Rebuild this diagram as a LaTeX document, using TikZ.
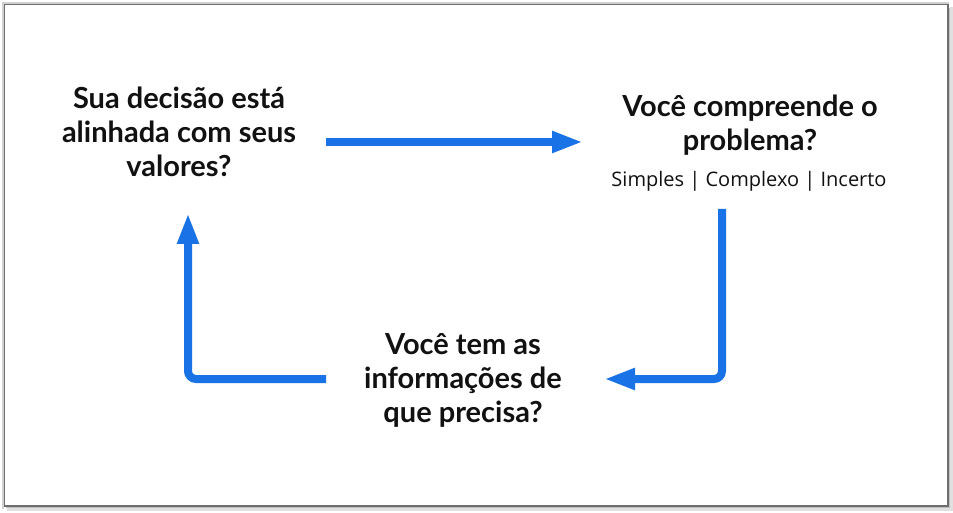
\documentclass[tikz,border=0pt]{standalone}
\usepackage{fontspec}
\setmainfont{Lato}
\newfontfamily\subfont{Open Sans}
\usetikzlibrary{arrows.meta}
\definecolor{flowblue}{RGB}{26,115,230}
\definecolor{ink}{RGB}{17,17,17}
\definecolor{framegray}{RGB}{110,110,110}
\tikzset{
  title/.style={font=\fontsize{29}{34}\selectfont\bfseries, text=ink, align=center, inner sep=0pt, anchor=base},
  sub/.style={font=\subfont\fontsize{20}{22}\selectfont, text=ink, inner sep=0pt, anchor=base},
  flow/.style={draw=flowblue, line width=8pt, rounded corners=8pt, -{Triangle[length=31pt,width=20pt]}},
}
\begin{document}
\begin{tikzpicture}[x=1pt,y=1pt]
\useasboundingbox (0,0) rectangle (953,512);
\fill[white] (0,0) rectangle (953,512);
% frame with soft shadow
\draw[black!12, line width=3pt] (7,3) -- (951,3) -- (951,505);
\draw[black!25, line width=1.5pt] (6,4.5) -- (949.5,4.5) -- (949.5,504);
\draw[black!18, line width=2pt] (3,3) -- (3,509) -- (949,509);
\draw[framegray, line width=1.6pt] (4.5,6) rectangle (948,507.5);
% titles (base anchor = baseline of last line)
\node[title] (values) at (179,335) {Sua decisão está\\alinhada com seus\\valores?};
\node[title] (problem) at (750,361) {Você compreende o\\problema?};
\node[sub] (kinds) at (749,325) {Simples | Complexo | Incerto};
\node[title] (info) at (463,90) {Você tem as\\informações de\\que precisa?};
% connector end points
\coordinate (a1s) at (326,370);
\coordinate (a1e) at (583,370);
\coordinate (a2s) at (722,303);
\coordinate (a2c) at (722,133);
\coordinate (a2e) at (604,133);
\coordinate (a3s) at (326,133);
\coordinate (a3c) at (188,133);
\coordinate (a3e) at (188,299);
\draw[flow] (a1s) -- (a1e);
\draw[flow] (a2s) -- (a2c) -- (a2e);
\draw[flow] (a3s) -- (a3c) -- (a3e);
\end{tikzpicture}
\end{document}
